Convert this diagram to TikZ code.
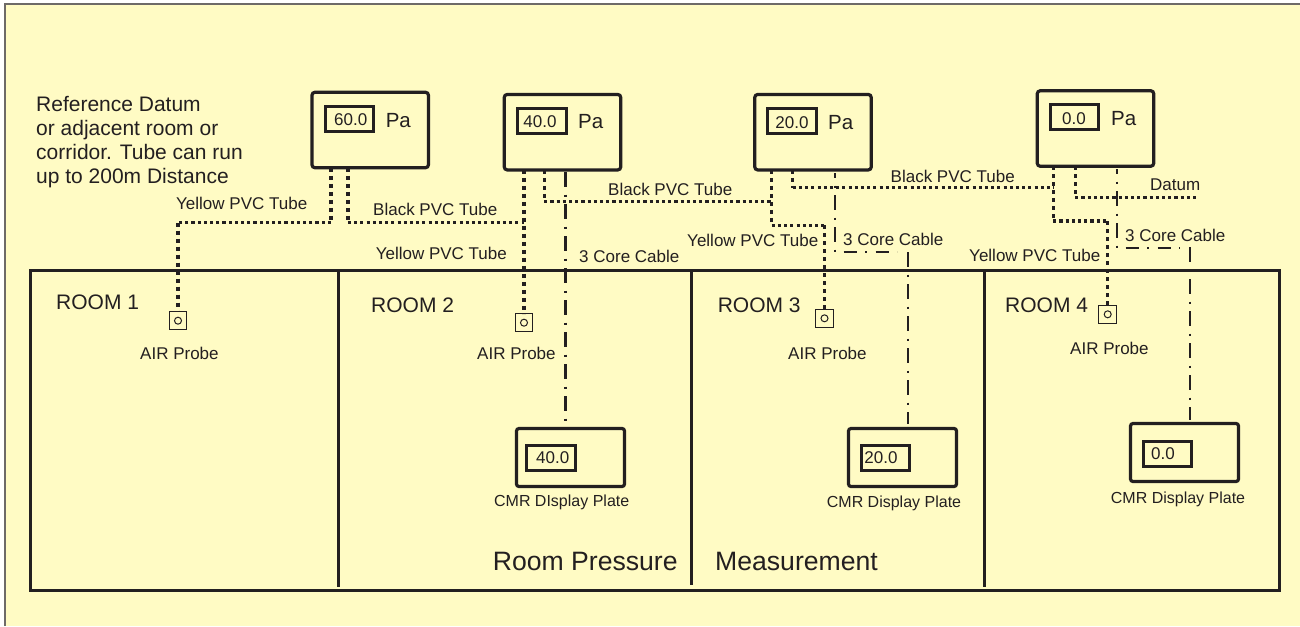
\documentclass[tikz,border=0pt]{standalone}
\usepackage{fontspec}
\setmainfont{Liberation Sans}
\usetikzlibrary{calc}
\definecolor{paper}{HTML}{FFFBC4}
\definecolor{ink}{HTML}{231F20}
\definecolor{edgegray}{HTML}{6E6A68}
\newcommand{\fs}[1]{\fontsize{#1}{#1}\selectfont}
\tikzset{
  x=1pt,y=-1pt,
  meter/.style={draw=ink,line width=3.2pt,rounded corners=3pt,inner sep=0pt,outer sep=0pt,minimum width=116.5pt,minimum height=75.5pt},
  plate/.style={draw=ink,line width=3.2pt,rounded corners=2.5pt,inner sep=0pt,outer sep=0pt,minimum width=108pt,minimum height=58pt},
  readout/.style={draw=ink,line width=3pt,inner sep=0pt,outer sep=0pt,minimum width=48.5pt,minimum height=25pt},
  probe/.style={draw=ink,line width=1pt,inner sep=0pt,outer sep=0pt,minimum size=17.5pt},
  probeeye/.style={draw=ink,line width=1pt,circle,inner sep=0pt,minimum size=7pt},
  vtube/.style={draw=ink,line width=3.3pt,dash pattern=on 4pt off 4pt},
  htube/.style={draw=ink,line width=3.3pt,dash pattern=on 3.1pt off 3.1pt},
  cable/.style={draw=ink,line width=2.2pt,dash pattern=on 15pt off 7.5pt on 2pt off 7.5pt},
  hcable/.style={draw=ink,line width=2.2pt,dash pattern=on 13pt off 8.5pt on 2pt off 8.5pt,dash phase=23.5pt},
  lab/.style={text=ink,inner sep=0pt,anchor=west,font=\fs{17}},
  val/.style={text=ink,inner sep=0pt,font=\fs{17}},
  pa/.style={text=ink,inner sep=0pt,anchor=west,font=\fs{20.5}},
  roomlab/.style={text=ink,inner sep=0pt,anchor=west,font=\fs{21}},
  platecap/.style={text=ink,inner sep=0pt,font=\fs{16}},
  big/.style={text=ink,inner sep=0pt,anchor=west,font=\fs{26.6}},
  wall/.style={draw=ink,line width=3pt}
}
\begin{document}
\begin{tikzpicture}
\useasboundingbox (0,0) rectangle (1300,626);
\fill[white] (0,0) rectangle (1300,626);
\fill[paper] (5,4) rectangle (1300,626);
\draw[edgegray,line width=2pt] (5,626) -- (5,4) -- (1300,4);

% rooms
\node[wall,inner sep=0pt,outer sep=0pt,minimum width=1249pt,minimum height=320pt] (rooms) at (654.5,430) {};
\coordinate (d1t) at (338,270); \coordinate (d1b) at (338,587);
\coordinate (d2t) at (691,270); \coordinate (d2b) at (691,585);
\coordinate (d3t) at (984.5,270); \coordinate (d3b) at (984.5,587);
\draw[wall] (d1t) -- (d1b);
\draw[wall] (d2t) -- (d2b);
\draw[wall] (d3t) -- (d3b);

% meters
\node[meter] (m1) at (370.2,130) {};
\node[meter] (m2) at (562.5,132.2) {};
\node[meter] (m3) at (813,132.2) {};
\node[meter] (m4) at (1095.5,128.5) {};
\node[readout] (r1) at (349.5,119) {};
\node[readout] (r2) at (542,121) {};
\node[readout] (r3) at (792,121) {};
\node[readout] (r4) at (1074.5,117) {};
\node[val] (v1) at (350.7,120) {60.0};
\node[val] (v2) at (540,122) {40.0};
\node[val] (v3) at (792,122.7) {20.0};
\node[val] (v4) at (1074,119) {0.0};
\node[pa] (pa1) at (385.6,120.7) {Pa};
\node[pa] (pa2) at (578,122) {Pa};
\node[pa] (pa3) at (828,122.5) {Pa};
\node[pa] (pa4) at (1111,119) {Pa};

% display plates
\node[plate] (d1) at (570.5,457.5) {};
\node[plate] (d2) at (902.5,457.5) {};
\node[plate] (d3) at (1184.5,452.5) {};
\node[readout] (s1) at (551,458) {};
\node[readout] (s2) at (885.5,458) {};
\node[readout] (s3) at (1167.5,454) {};
\node[val] (sv1) at (552.7,458) {40.0};
\node[val] (sv2) at (881,458) {20.0};
\node[val] (sv3) at (1163,454) {0.0};
\node[platecap] (c1) at (561.7,502.7) {CMR DIsplay Plate};
\node[platecap] (c2) at (894,503.7) {CMR Display Plate};
\node[platecap] (c3) at (1178,499) {CMR Display Plate};

% probes
\node[probe] (p1) at (178,320.7) {};
\node[probe] (p2) at (524,322.7) {};
\node[probe] (p3) at (824.5,318.3) {};
\node[probe] (p4) at (1107.7,314.3) {};
\node[probeeye] (e1) at (p1) {};
\node[probeeye] (e2) at (p2) {};
\node[probeeye] (e3) at (p3) {};
\node[probeeye] (e4) at (p4) {};

% tube junctions
\coordinate (y1a) at ($(m1.south west)+(19,0)$);
\coordinate (b1a) at ($(m1.south west)+(36,0)$);
\coordinate (y2a) at (p2 |- m2.south);
\coordinate (b2a) at ($(m2.south west)+(40,0)$);
\coordinate (y3a) at ($(m3.south west)+(17,0)$);
\coordinate (b3a) at ($(m3.south west)+(38,0)$);
\coordinate (y4a) at ($(m4.south west)+(16,0)$);
\coordinate (b4a) at ($(m4.south west)+(38,0)$);
\coordinate (y1j) at (p1 |- 0,222.7);
\coordinate (b1j) at (y2a |- 0,222.2);
\coordinate (b2j) at (y3a |- 0,201.7);
\coordinate (y3j) at (p3 |- 0,225.3);
\coordinate (b3j) at (y4a |- 0,187.7);
\coordinate (y4j) at (p4 |- 0,221);
\coordinate (datum) at (1199,197.7);

\draw[vtube] (y1a) -- (y1a |- y1j);
\draw[htube] (y1a |- y1j) -- (y1j);
\draw[vtube] (y1j) -- (p1.north);
\draw[vtube] (b1a) -- (b1a |- b1j);
\draw[htube] (b1a |- b1j) -- (b1j);
\draw[vtube] (y2a) -- (p2.north);
\draw[vtube] (b2a) -- (b2a |- b2j);
\draw[htube] (b2a |- b2j) -- (b2j);
\draw[vtube] (y3a) -- (y3a |- y3j);
\draw[htube] (y3a |- y3j) -- (y3j);
\draw[vtube] (y3j) -- (p3.north);
\draw[vtube] (b3a) -- (b3a |- b3j);
\draw[htube] (b3a |- b3j) -- (b3j);
\draw[vtube] (y4a) -- (y4a |- y4j);
\draw[htube] (y4a |- y4j) -- (y4j);
\draw[vtube] (y4j) -- (p4.north);
\draw[vtube] (b4a) -- (b4a |- datum);
\draw[htube] (b4a |- datum) -- (datum);

% cables
\coordinate (k2a) at (565.5,172);
\coordinate (k2b) at (565.5,421);
\coordinate (k3a) at (835,173);
\coordinate (k3j) at (835,251.7);
\coordinate (k3e) at (897,251.7);
\coordinate (k3k) at (908,252);
\coordinate (k3b) at (908,424);
\coordinate (k4a) at (1117,169);
\coordinate (k4j) at (1117,247.7);
\coordinate (k4e) at (1180,247.7);
\coordinate (k4k) at (1190,247);
\coordinate (k4b) at (1190,420);
\draw[cable] (k2a) -- (k2b);
\draw[cable,dash phase=10pt] (k3a) -- (k3j);
\draw[hcable] (k3j) -- (k3e);
\draw[cable] (k3k) -- (k3b);
\draw[cable,dash phase=10pt] (k4a) -- (k4j);
\draw[hcable] (k4j) -- (k4e);
\draw[cable] (k4k) -- (k4b);

% labels
\node[text=ink,inner sep=0pt,anchor=north west,align=left,font=\fontsize{21}{24}\selectfont] (note) at (36,96.5)
  {Reference Datum\\or adjacent room or\\corridor. Tube can run\\up to 200m Distance};
\node[lab] (l1) at (176,203) {Yellow PVC Tube};
\node[lab] (l2) at (373,209) {Black PVC Tube};
\node[lab] (l3) at (375.6,253) {Yellow PVC Tube};
\node[lab] (l4) at (579,256) {3 Core Cable};
\node[lab] (l5) at (608,189) {Black PVC Tube};
\node[lab] (l6) at (687,240) {Yellow PVC Tube};
\node[lab] (l7) at (843,239) {3 Core Cable};
\node[lab] (l8) at (890.5,176) {Black PVC Tube};
\node[lab] (l9) at (1150,185) {Datum};
\node[lab] (l10) at (1125,235) {3 Core Cable};
\node[lab] (l11) at (969,255) {Yellow PVC Tube};
\node[roomlab] (n1) at (56,302) {ROOM 1};
\node[roomlab] (n2) at (371,305.7) {ROOM 2};
\node[roomlab] (n3) at (717.6,305.7) {ROOM 3};
\node[roomlab] (n4) at (1005,305.7) {ROOM 4};
\node[lab] (a1) at (140,353) {AIR Probe};
\node[lab] (a2) at (477,353) {AIR Probe};
\node[lab] (a3) at (788,353) {AIR Probe};
\node[lab] (a4) at (1070,348) {AIR Probe};
\node[big] (t1) at (492.7,561.7) {Room Pressure};
\node[big] (t2) at (715,561.7) {Measurement};
\end{tikzpicture}
\end{document}
